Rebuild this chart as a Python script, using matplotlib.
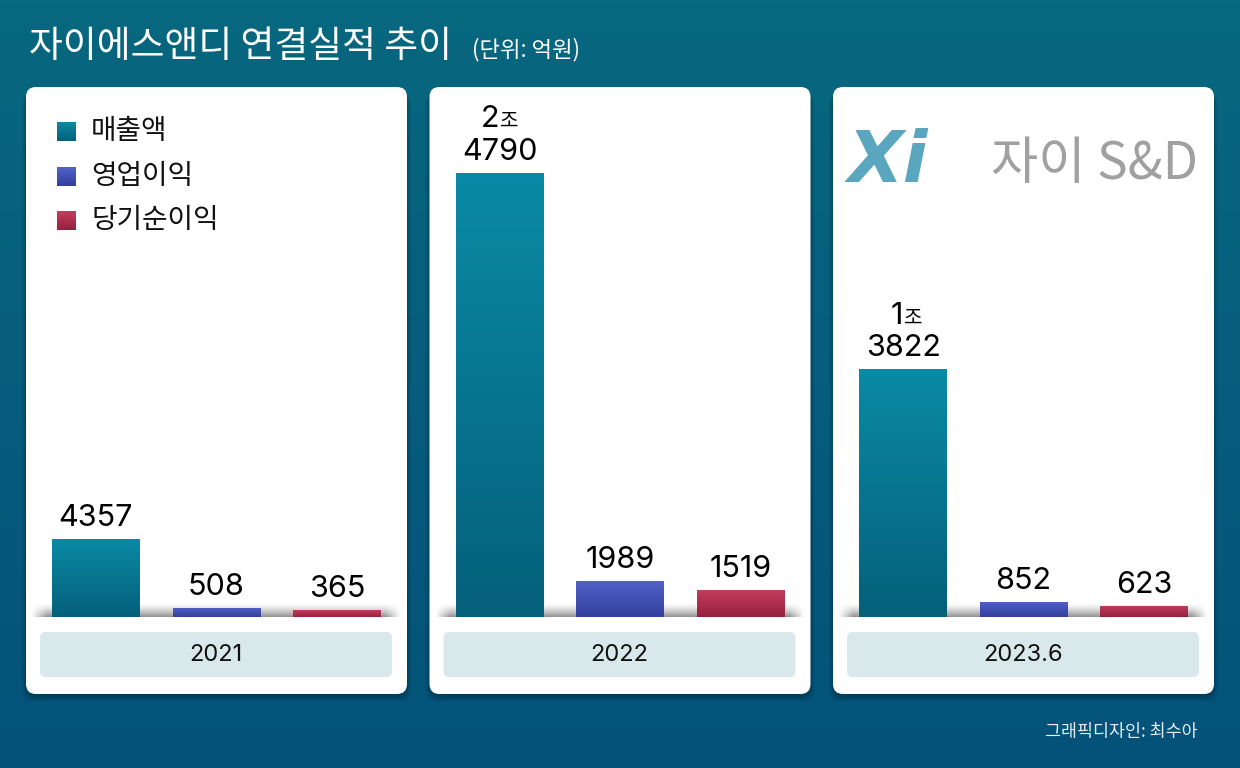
import matplotlib
matplotlib.use("Agg")
import matplotlib.pyplot as plt
import numpy as np
from matplotlib.patches import FancyBboxPatch
from matplotlib.colors import LinearSegmentedColormap, to_rgb

#data------------------------
years = ["2021", "2022", "2023.6"]
series = ["매출액", "영업이익", "당기순이익"]
revenue = [4357, 24790, 13822]
op_profit = [508, 1989, 852]
net_profit = [365, 1519, 623]

# (top, bottom) colours of each series' gradient
top_cols = ["#0a8aa6", "#5262c8", "#c23e5e"]
bot_cols = ["#05607a", "#333f9c", "#98203f"]

KR = ["Noto Sans CJK KR", "DejaVu Sans"]
NUM = ["Inter", "Noto Sans CJK KR"]

W, H = 1240, 768
fig = plt.figure(figsize=(W / 100, H / 100), dpi=100)

# background axes in pixel coords
bg = fig.add_axes([0, 0, 1, 1])
bg.set_xlim(0, W)
bg.set_ylim(H, 0)
bg.axis("off")

grad = np.linspace(0, 1, 256).reshape(-1, 1)
bg_cmap = LinearSegmentedColormap.from_list("bg", ["#08687f", "#04527a"])
bg.imshow(grad, extent=[0, W, H, 0], cmap=bg_cmap, aspect="auto", zorder=0)

# title ------------------------
bg.text(29, 46, "자이에스앤디 연결실적 추이", color="white", fontsize=26.5,
        family=KR, fontweight="medium", va="center", ha="left")
bg.text(472, 50, "(단위: 억원)", color="white", fontsize=16,
        family=KR, va="center", ha="left")
bg.text(1198, 732, "그래픽디자인: 최수아", color="#e4eef3", fontsize=12.5,
        family=KR, va="center", ha="right")

panel_x = [26, 429.5, 833]
panel_w, panel_y, panel_h = 381, 87, 607
base_y = 617
px_per_unit = 444 / 24790
top_y = 116

def shadow_img(x0, x1, y0, y1):
    ny, nx = 40, 200
    v = np.linspace(0, 1, ny) ** 1.4
    xs = np.linspace(0, 1, nx)
    h = np.clip(np.minimum(xs, 1 - xs) / 0.04, 0, 1)
    a = np.outer(v, h) * 0.65
    img = np.zeros((ny, nx, 4))
    img[..., :3] = 0.33
    img[..., 3] = a
    bg.imshow(img, extent=[x0, x1, y1, y0], aspect="auto", zorder=4,
              interpolation="bilinear")

for i, px in enumerate(panel_x):
    # drop shadow
    for k in range(5):
        s = FancyBboxPatch((px - k, panel_y + 3 + k), panel_w + 2 * k, panel_h,
                           boxstyle="round,pad=0,rounding_size=12",
                           fc="black", ec="none", alpha=0.05, zorder=2)
        bg.add_patch(s)
    p = FancyBboxPatch((px, panel_y), panel_w, panel_h,
                       boxstyle="round,pad=0,rounding_size=10",
                       fc="white", ec="none", zorder=3)
    bg.add_patch(p)
    shadow_img(px + 5, px + panel_w - 6, base_y - 14, base_y)
    lb = FancyBboxPatch((px + 14, 632), 352, 45,
                        boxstyle="round,pad=0,rounding_size=6",
                        fc="#d9e8ea", ec="none", zorder=4)
    bg.add_patch(lb)
    bg.text(px + 14 + 176, 655, years[i], fontsize=17, family=NUM,
            color="#111111", ha="center", va="center", zorder=5)

# legend ------------------------
leg_y = [131, 176, 220]
for name, c0, c1, ly in zip(series, top_cols, bot_cols, leg_y):
    img = np.zeros((20, 1, 3))
    for j in range(20):
        t = j / 19
        img[j, 0] = np.array(to_rgb(c0)) * (1 - t) + np.array(to_rgb(c1)) * t
    bg.imshow(img, extent=[57, 76, ly + 10, ly - 9], aspect="auto", zorder=6)
    bg.text(91, ly, name, fontsize=20, family=KR, color="#111111",
            va="center", ha="left", zorder=6)

# logo ------------------------
bg.text(848, 162, "Xi", fontsize=52, family=["DejaVu Sans"], fontweight="bold",
        color="#5aa6bf", va="center", ha="left", zorder=6, style="italic")
bg.text(991, 164, "자이 S&D", fontsize=37, family=KR, color="#a0a0a0",
        va="center", ha="left", zorder=6)

# bars ------------------------
x = np.arange(3)
spacing = 120.5
bw = 88 / spacing
ytop = (base_y - top_y) / px_per_unit
for i, px in enumerate(panel_x):
    left = px + 14
    ax = fig.add_axes([left / W, (H - base_y) / H, 352 / W, (base_y - top_y) / H])
    ax.patch.set_alpha(0)
    ax.axis("off")
    vals = [revenue[i], op_profit[i], net_profit[i]]
    bars = ax.bar(x, vals, width=bw, color=top_cols, zorder=1)
    for b, c0, c1 in zip(bars, top_cols, bot_cols):
        cm = LinearSegmentedColormap.from_list("g", [c1, c0])
        im = ax.imshow(grad, cmap=cm, origin="lower",
                       extent=[b.get_x(), b.get_x() + b.get_width(), 0, b.get_height()],
                       aspect="auto", zorder=2)
        im.set_clip_path(b)
    for xi, v in zip(x, vals):
        if v >= 10000:
            jo, rest = divmod(v, 10000)
            ax.annotate(str(rest), (xi, v), xytext=(0, 9.4), textcoords="offset points",
                        ha="center", va="baseline", fontsize=22, family=NUM)
            ax.annotate(str(jo), (xi, v), xytext=(0, 33), textcoords="offset points",
                        ha="right", va="baseline", fontsize=22, family=NUM)
            ax.annotate("조", (xi, v), xytext=(0.5, 33), textcoords="offset points",
                        ha="left", va="baseline", fontsize=14.5, family=KR)
        else:
            ax.annotate(str(v), (xi, v), xytext=(0, 9.4), textcoords="offset points",
                        ha="center", va="baseline", fontsize=22, family=NUM)
    ax.set_xlim((-56) / spacing, (352 - 56) / spacing)
    ax.set_ylim(0, ytop)

plt.savefig("out.png", dpi=100)
